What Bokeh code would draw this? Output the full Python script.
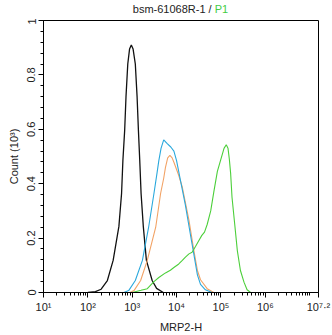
import math

from bokeh.embed import file_html
from bokeh.layouts import column
from bokeh.models import Div, FixedTicker, Range1d
from bokeh.plotting import figure
from bokeh.resources import INLINE

# Fluorescence histograms: x in log10(MRP2-H), y in counts (10^3)
black_x = [2.0, 2.17, 2.3, 2.44, 2.57, 2.70, 2.76, 2.79, 2.83, 2.86, 2.90, 2.94, 2.98,
           3.02, 3.07, 3.11, 3.14, 3.17, 3.20, 3.25, 3.32, 3.45, 3.55, 3.7]
black_y = [0.0, 0.003, 0.012, 0.044, 0.118, 0.243, 0.364, 0.485, 0.596, 0.72, 0.84, 0.895, 0.91,
           0.895, 0.84, 0.72, 0.596, 0.485, 0.364, 0.243, 0.118, 0.044, 0.015, 0.0]

blue_x = [2.81, 2.92, 3.07, 3.23, 3.37, 3.49, 3.56, 3.60, 3.65, 3.71, 3.79, 3.87, 3.94,
          4.0, 4.09, 4.20, 4.31, 4.39, 4.47, 4.54, 4.65, 4.8]
blue_y = [0.0, 0.007, 0.044, 0.118, 0.24, 0.364, 0.44, 0.485, 0.53, 0.561, 0.547, 0.535, 0.52,
          0.485, 0.41, 0.32, 0.215, 0.14, 0.065, 0.03, 0.01, 0.0]

orange_x = [2.95, 3.04, 3.19, 3.34, 3.53, 3.64, 3.71, 3.75, 3.80, 3.85, 3.90, 3.94, 4.05,
            4.13, 4.28, 4.39, 4.47, 4.54, 4.69, 4.84]
orange_y = [0.0, 0.007, 0.044, 0.118, 0.24, 0.364, 0.42, 0.46, 0.495, 0.504, 0.495, 0.479, 0.43,
            0.387, 0.265, 0.154, 0.081, 0.047, 0.014, 0.0]

green_x = [3.0, 3.2, 3.34, 3.49, 3.6, 3.75, 3.86, 3.94, 4.05, 4.13, 4.20, 4.28, 4.35, 4.43,
           4.50, 4.57, 4.63, 4.69, 4.77, 4.84, 4.92, 4.99, 5.07, 5.12, 5.16, 5.19, 5.22,
           5.25, 5.31, 5.37, 5.44, 5.52, 5.59, 5.67]
green_y = [0.0, 0.008, 0.014, 0.04, 0.055, 0.072, 0.082, 0.092, 0.105, 0.118, 0.13, 0.142,
           0.148, 0.17, 0.19, 0.21, 0.222, 0.25, 0.30, 0.37, 0.445, 0.485, 0.53, 0.543, 0.53,
           0.49, 0.436, 0.35, 0.253, 0.154, 0.081, 0.038, 0.01, 0.0]

x_ticks = [1, 2, 3, 4, 5, 6, 7.2]
x_tick_labels = ["10¹", "10²", "10³", "10⁴", "10⁵", "10⁶", "10⁷·²"]
y_ticks = [0, 0.2, 0.4, 0.6, 0.8, 1.0]
y_tick_labels = ["0", "0.2", "0.4", "0.6", "0.8", "1"]

FONT = "Liberation Sans"

p = figure(width=332, height=317, output_backend="svg", toolbar_location=None,
           x_range=Range1d(1, 7.2), y_range=Range1d(0, 1),
           min_border_left=43, min_border_right=14, min_border_top=2, min_border_bottom=43)
p.background_fill_color = "white"
p.border_fill_color = "white"
p.outline_line_color = "black"
p.outline_line_width = 1
p.xgrid.visible = False
p.ygrid.visible = False

for xs, ys, col, w in [(black_x, black_y, "#111111", 1.3),
                       (orange_x, orange_y, "#f2a366", 1.1),
                       (blue_x, blue_y, "#2aa8dc", 1.1),
                       (green_x, green_y, "#4ccf3a", 1.1)]:
    p.line(xs, ys, line_color=col, line_width=w)

# decade ticks on a log10 scale, with minor ticks at 2..9 x 10^n
minor_x = [math.log10(k * 10 ** n) for n in range(1, 7) for k in range(2, 10)] + [7.0]
p.xaxis.ticker = FixedTicker(ticks=x_ticks, minor_ticks=minor_x)
p.xaxis.major_label_overrides = {t: lab for t, lab in zip(x_ticks, x_tick_labels)}
p.yaxis.ticker = FixedTicker(ticks=y_ticks, minor_ticks=[i * 0.04 for i in range(26)])
p.yaxis.major_label_overrides = {t: lab for t, lab in zip(y_ticks, y_tick_labels)}
p.yaxis.major_label_orientation = "vertical"

for ax in (p.xaxis[0], p.yaxis[0]):
    ax.axis_line_color = "black"
    ax.major_tick_line_color = "black"
    ax.minor_tick_line_color = "black"
    ax.major_tick_in = 0
    ax.minor_tick_in = 0
    ax.major_tick_out = 5
    ax.minor_tick_out = 3
    ax.major_label_text_font = FONT
    ax.major_label_text_font_size = "11px"
    ax.major_label_text_color = "#222222"
    ax.axis_label_text_font = FONT
    ax.axis_label_text_font_size = "11px"
    ax.axis_label_text_font_style = "normal"
    ax.axis_label_text_color = "#222222"
    ax.major_label_standoff = 3
    ax.axis_label_standoff = 5

p.xaxis.axis_label = "MRP2-H"
p.yaxis.axis_label = "Count (10³)"

# two-colour heading centred over the plot frame
heading = Div(
    text='bsm-61068R-1 / <span style="color:#44cc44">P1</span>',
    width=275, height=18, margin=(0, 0, 0, 43),
    styles={"font-family": FONT, "font-size": "11px", "color": "#222222",
            "text-align": "center", "line-height": "13px", "padding-top": "3px",
            "width": "275px"},
)

layout = column(heading, p, spacing=0)
open("out.html", "w").write(file_html(layout, INLINE))
